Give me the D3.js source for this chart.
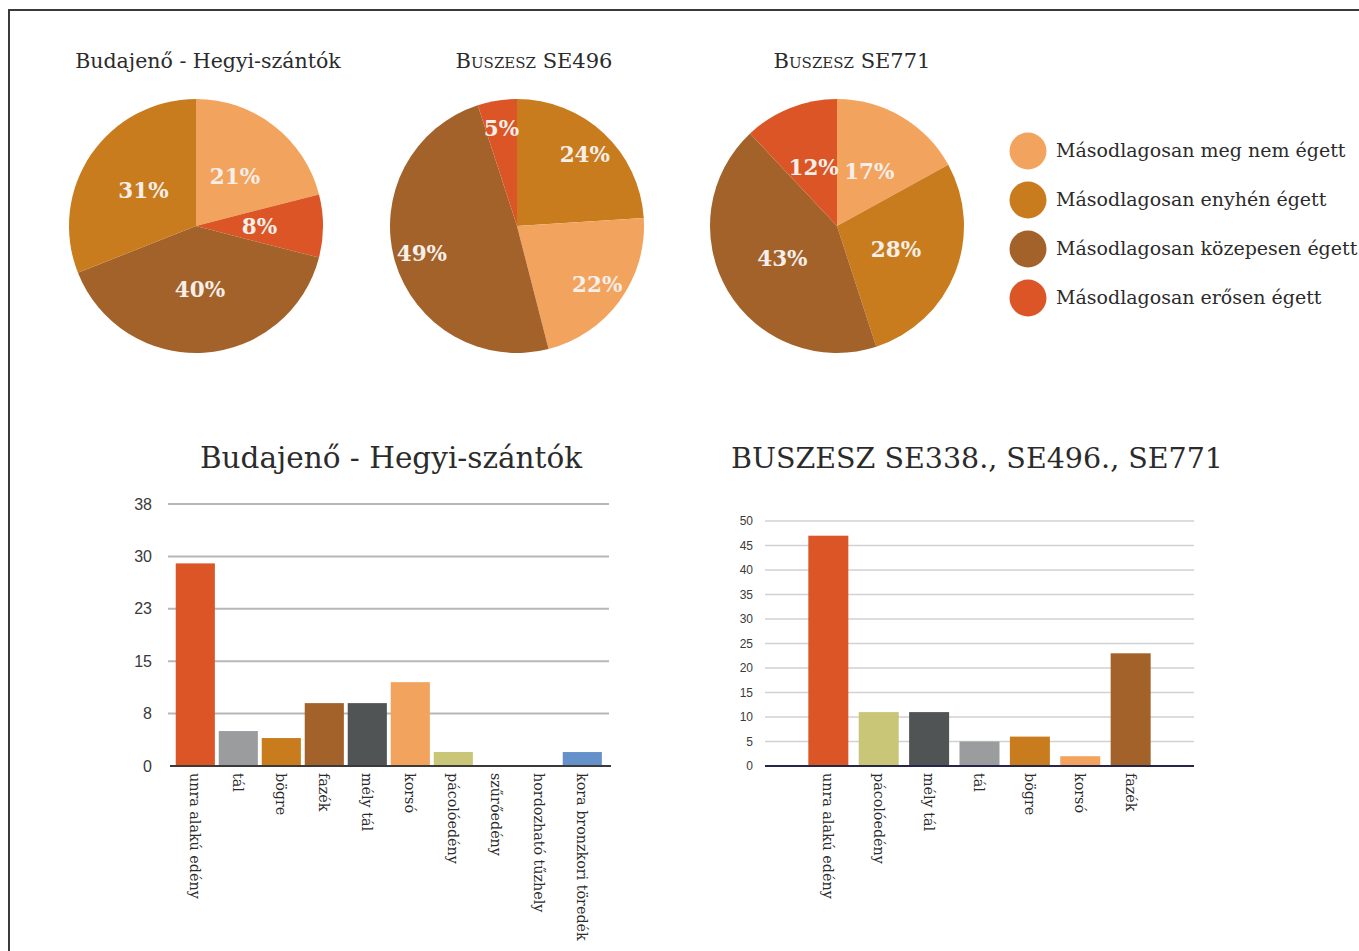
<!DOCTYPE html>
<html>
<head>
<meta charset="utf-8">
<script src="https://cdn.jsdelivr.net/npm/d3@7"></script>
<style>
  html, body { margin: 0; padding: 0; background: #fff; }
  svg { display: block; }
</style>
</head>
<body>
<svg id="chart" width="1359" height="951"></svg>
<script>
// ---------- DATA ----------
const burnCategories = [
  "Másodlagosan meg nem égett",
  "Másodlagosan enyhén égett",
  "Másodlagosan közepesen égett",
  "Másodlagosan erősen égett"
];
const burnColors = ["#F2A45F", "#C87C1E", "#A3622A", "#DB5526"];

const pieTitles = ["Budajenő - Hegyi-szántók", "Buszesz SE496", "Buszesz SE771"];

// slice order (clockwise from top) as category indexes, with percentages
const pie1Cats = [0, 3, 2, 1];
const pie1Values = [21, 8, 40, 31];
const pie2Cats = [1, 0, 2, 3];
const pie2Values = [24, 22, 49, 5];
const pie3Cats = [0, 1, 2, 3];
const pie3Values = [17, 28, 43, 12];

const bar1Title = "Budajenő - Hegyi-szántók";
const bar1Categories = ["unra alakú edény", "tál", "bögre", "fazék", "mély tál", "korsó",
  "pácolóedény", "szűrőedény", "hordozható tűzhely", "kora bronzkori töredék"];
const bar1Values = [29, 5, 4, 9, 9, 12, 2, 0, 0, 2];
const bar1Ticks = [0, 7.5, 15, 22.5, 30, 37.5];
const bar1TickLabels = ["0", "8", "15", "23", "30", "38"];

const bar2Title = "BUSZESZ SE338., SE496., SE771";
const bar2Categories = ["unra alakú edény", "pácolóedény", "mély tál", "tál", "bögre", "korsó", "fazék"];
const bar2Values = [47, 11, 11, 5, 6, 2, 23];
const bar2Ticks = [0, 5, 10, 15, 20, 25, 30, 35, 40, 45, 50];

const vesselColors = {
  "unra alakú edény": "#DB5526",
  "tál": "#9A9C9D",
  "bögre": "#C87C1E",
  "fazék": "#A3622A",
  "mély tál": "#505455",
  "korsó": "#F2A45F",
  "pácolóedény": "#C9C677",
  "szűrőedény": "#7FA7D4",
  "hordozható tűzhely": "#8E8E8E",
  "kora bronzkori töredék": "#6591CB"
};

// ---------- DRAW ----------
const svg = d3.select("#chart");
const SERIF = "'DejaVu Serif', serif";
const SANS = "'Liberation Sans', Arial, sans-serif";
const TEXT = "#2b2b2b";

// frame
svg.append("path").attr("d", "M9,951 L9,10 L1359,10")
  .attr("fill", "none").attr("stroke", "#3a3a3a").attr("stroke-width", 2);

// pies
const pies = [
  { cats: pie1Cats, vals: pie1Values, cx: 196, title: pieTitles[0], caps: false, lr: 0.5, tx: 208 },
  { cats: pie2Cats, vals: pie2Values, cx: 517, title: pieTitles[1], caps: true, lr: 0.78, tx: 534 },
  { cats: pie3Cats, vals: pie3Values, cx: 837, title: pieTitles[2], caps: true, lr: 0.5, tx: 852 }
];
const R = 127, CY = 226;
const pieGen = d3.pie().sort(null).value(d => d.v);
pies.forEach(p => {
  const data = p.vals.map((v, i) => ({ v, c: p.cats[i] }));
  const g = svg.append("g").attr("transform", `translate(${p.cx},${CY})`);
  const arc = d3.arc().innerRadius(0).outerRadius(R);
  const labelArc = d3.arc().innerRadius(R * p.lr).outerRadius(R * p.lr);
  const arcs = pieGen(data);
  g.selectAll("path").data(arcs).join("path")
    .attr("d", arc).attr("fill", d => burnColors[d.data.c]);
  g.selectAll("text").data(arcs).join("text")
    .attr("transform", d => `translate(${labelArc.centroid(d)})`)
    .attr("text-anchor", "middle").attr("dy", "0.36em")
    .attr("font-family", SERIF).attr("font-weight", "bold").attr("font-size", 21.5)
    .attr("fill", "#F6EEE8")
    .text(d => d.data.v + "%");
  svg.append("text")
    .attr("x", p.tx).attr("y", 68).attr("text-anchor", "middle")
    .attr("font-family", SERIF).attr("font-size", p.caps ? 21 : 20.5).attr("fill", TEXT)
    .style("font-variant", p.caps ? "small-caps" : "normal")
    .text(p.title);
});

// legend
const leg = svg.append("g");
burnCategories.forEach((c, i) => {
  const y = 151 + i * 49;
  leg.append("circle").attr("cx", 1028).attr("cy", y).attr("r", 18.5).attr("fill", burnColors[i]);
  leg.append("text").attr("x", 1056).attr("y", y).attr("dy", "0.32em")
    .attr("font-family", SERIF).attr("font-size", 19).attr("fill", TEXT).text(c);
});

// bar charts
function barChart(cfg) {
  const g = svg.append("g");
  const y = d3.scaleLinear().domain(cfg.domain).range([cfg.y0, cfg.y1]);
  const x = d3.scaleBand().domain(cfg.cats).range([cfg.bx0, cfg.bx1])
    .paddingInner(cfg.pi).paddingOuter(cfg.po);
  // gridlines
  g.selectAll("line.grid").data(cfg.ticks.filter(t => t !== 0)).join("line")
    .attr("class", "grid")
    .attr("x1", cfg.gx0).attr("x2", cfg.gx1)
    .attr("y1", d => y(d)).attr("y2", d => y(d))
    .attr("stroke", cfg.gridColor).attr("stroke-width", cfg.gridW);
  // y axis labels via d3.axisLeft
  const yAxis = d3.axisLeft(y).tickValues(cfg.ticks).tickSize(0).tickPadding(0)
    .tickFormat((d, i) => cfg.tickLabels ? cfg.tickLabels[i] : d);
  const ya = g.append("g").attr("transform", `translate(${cfg.labelX},0)`).call(yAxis);
  ya.select(".domain").remove();
  ya.selectAll("text").attr("font-family", SANS).attr("font-size", cfg.tickFs).attr("fill", "#3a3a3a");
  // bars
  g.selectAll("rect").data(cfg.vals).join("rect")
    .attr("x", (d, i) => x(cfg.cats[i])).attr("width", x.bandwidth())
    .attr("y", d => y(d)).attr("height", d => y(0) - y(d))
    .attr("fill", (d, i) => vesselColors[cfg.cats[i]]);
  // baseline
  g.append("line").attr("x1", cfg.ax0).attr("x2", cfg.ax1)
    .attr("y1", y(0)).attr("y2", y(0))
    .attr("stroke", cfg.axisColor).attr("stroke-width", 2);
  // x labels
  g.selectAll("text.xl").data(cfg.cats).join("text").attr("class", "xl")
    .attr("transform", d => `translate(${x(d) + x.bandwidth() / 2},${y(0) + 7}) rotate(90)`)
    .attr("dy", "0.35em")
    .attr("font-family", SERIF).attr("font-size", 14.3).attr("fill", TEXT)
    .text(d => d);
  // title
  svg.append("text").attr("x", cfg.titleX).attr("y", cfg.titleY).attr("text-anchor", "middle")
    .attr("font-family", SERIF).attr("font-size", cfg.titleFs).attr("fill", TEXT).text(cfg.title);
}

barChart({
  title: bar1Title, titleX: 391, titleY: 468, titleFs: 29.5,
  cats: bar1Categories, vals: bar1Values, ticks: bar1Ticks, tickLabels: bar1TickLabels,
  domain: [0, 37.5], y0: 766, y1: 504,
  bx0: 173.8, bx1: 603.8, pi: 0.09, po: 0.045,
  gx0: 168, gx1: 609, ax0: 170, ax1: 611,
  gridColor: "#B5B7B8", gridW: 2, axisColor: "#3a3a3a",
  labelX: 152, tickFs: 16
});

barChart({
  title: bar2Title, titleX: 977, titleY: 468, titleFs: 28.5,
  cats: bar2Categories, vals: bar2Values, ticks: bar2Ticks, tickLabels: null,
  domain: [0, 50], y0: 766, y1: 521,
  bx0: 765, bx1: 1194, pi: 0.206, po: 0.86,
  gx0: 765, gx1: 1194, ax0: 765, ax1: 1194,
  gridColor: "#D0D1D2", gridW: 1.5, axisColor: "#26264a",
  labelX: 753, tickFs: 12
});
</script>
</body>
</html>
